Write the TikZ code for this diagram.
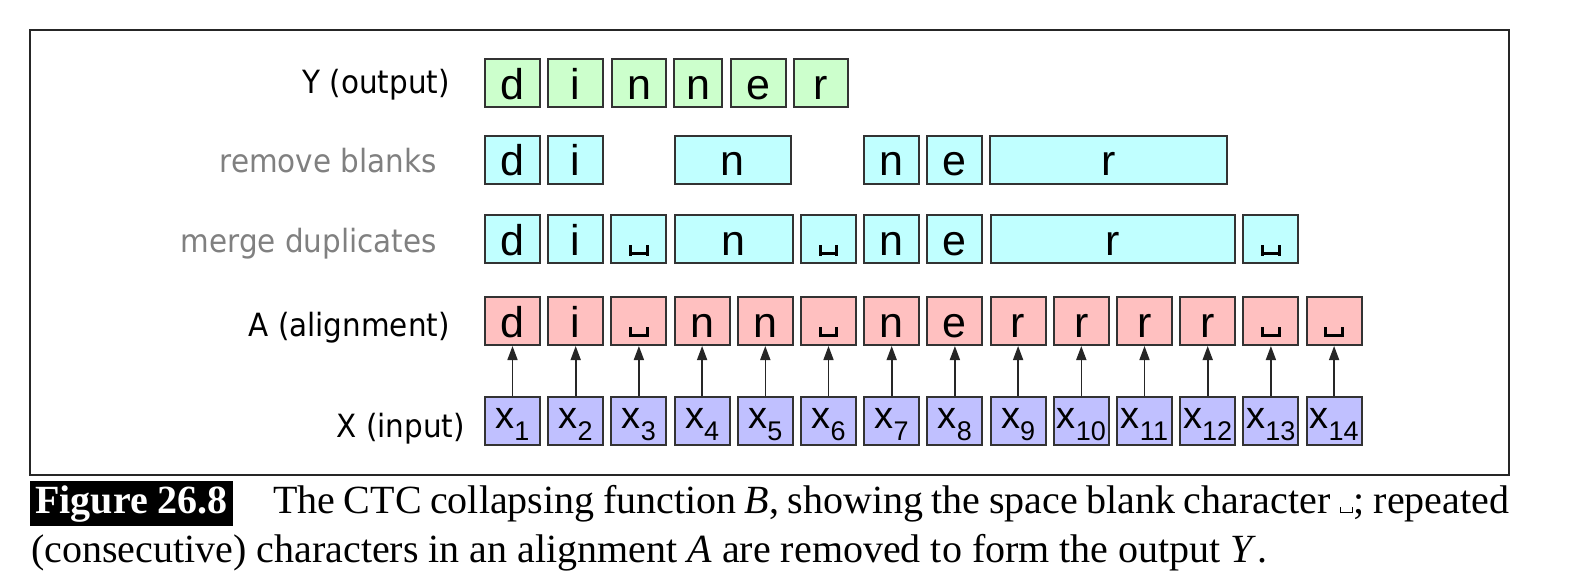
\documentclass[tikz,border=0pt]{standalone}
\usepackage{fontspec}
\setmainfont{Liberation Serif}
\newfontfamily\labelfont[FakeStretch=0.92]{DejaVu Sans}
\newfontfamily\cellfont{Liberation Sans}
\usetikzlibrary{arrows.meta}
\definecolor{ycol}{HTML}{CCFFCC}
\definecolor{mcol}{HTML}{C0FFFF}
\definecolor{acol}{HTML}{FFC0C0}
\definecolor{xcol}{HTML}{C0C0FF}
\definecolor{edgecol}{HTML}{333333}
\definecolor{labgray}{HTML}{808080}
\newcommand\blnk{\hbox{\kern0.05em\vrule width0.07em height0.24em depth0pt\vrule width0.31em height0.07em depth0pt\vrule width0.07em height0.24em depth0pt\kern0.05em}}
\newcommand\blnkc{\hbox{\kern0.03em\vrule width0.03em height0.14em depth0pt\vrule width0.26em height0.03em depth0pt\vrule width0.03em height0.14em depth0pt\kern0.02em}}
\newcommand\xsub[1]{x\raisebox{-12pt}{\fontsize{27pt}{27pt}\selectfont #1}}
\begin{document}
\begin{tikzpicture}[x=1pt,y=-1pt,
  cell/.style={draw=edgecol, line width=2pt, inner sep=0pt, minimum width=55pt, minimum height=48pt,
    font=\cellfont\fontsize{43pt}{46pt}\selectfont, text height=32pt, text depth=0pt},
  ycell/.style={cell, fill=ycol},
  mcell/.style={cell, fill=mcol},
  acell/.style={cell, fill=acol},
  xcell/.style={cell, fill=xcol, font=\cellfont\fontsize{38pt}{42pt}\selectfont, text height=24pt, text depth=9pt},
  rowlabel/.style={anchor=base east, inner sep=0pt, font=\labelfont\fontsize{32pt}{38pt}\selectfont},
  arr/.style={draw=black!85, line width=1.6pt, -{Triangle[width=10pt,length=14pt]}},
  capfont/.style={font=\fontsize{40pt}{48pt}\selectfont}
]
\useasboundingbox (0,0) rectangle (1580,588);
% frame
\draw[line width=2pt, draw=black!85] (30,30) rectangle (1509,475);

% row labels
\node[rowlabel] (lY) at (450,94) {Y (output)};
\node[rowlabel, text=labgray] (lR) at (437,173) {remove blanks};
\node[rowlabel, text=labgray] (lM) at (437,253) {merge duplicates};
\node[rowlabel] (lA) at (450,336) {A (alignment)};
\node[rowlabel] (lX) at (465,437) {X (input)};

% Y row
\node[ycell] (y1) at (512.5,83.5) {d};
\node[ycell] (y2) at (575.5,83.5) {i};
\node[ycell, minimum width=54pt] (y3) at (639,83.5) {n};
\node[ycell, minimum width=48pt] (y4) at (698,83.5) {n};
\node[ycell] (y5) at (758.5,83.5) {e};
\node[ycell, minimum width=54pt] (y6) at (821,83.5) {r};

% remove blanks row
\node[mcell] (r1) at (512.5,160) {d};
\node[mcell] (r2) at (575.7,160) {i};
\node[mcell, minimum width=116pt] (r3) at (732.5,160) {n};
\node[mcell] (r4) at (891.7,160) {n};
\node[mcell] (r5) at (954.9,160) {e};
\node[mcell, minimum width=237pt] (r6) at (1108.5,160) {r};

% merge duplicates row
\node[mcell] (m1) at (512.5,239.5) {d};
\node[mcell] (m2) at (575.7,239.5) {i};
\node[mcell] (m3) at (638.9,239.5) {\blnk};
\node[mcell, minimum width=118.2pt] (m4) at (733.7,239.5) {n};
\node[mcell] (m5) at (828.5,239.5) {\blnk};
\node[mcell] (m6) at (891.7,239.5) {n};
\node[mcell] (m7) at (954.9,239.5) {e};
\node[mcell, minimum width=244.6pt] (m8) at (1112.9,239.5) {r};
\node[mcell] (m9) at (1270.9,239.5) {\blnk};

% alignment row
\foreach \i/\c in {1/d,2/i,3/\blnk,4/n,5/n,6/\blnk,7/n,8/e,9/r,10/r,11/r,12/r,13/\blnk,14/\blnk}{
  \node[acell] (a\i) at ({512.5+63.2*(\i-1)},321) {\c};
}
% input row
\foreach \i in {1,...,14}{
  \node[xcell] (x\i) at ({512.5+63.2*(\i-1)},420.5) {\xsub{\i}};
}
% arrows
\foreach \i in {1,...,14}{
  \draw[arr] (x\i) -- (a\i);
}

% caption
\node[fill=black, text=white, anchor=base west, inner xsep=5pt, inner ysep=3pt,
  text height=29pt, text depth=10pt, font=\bfseries\fontsize{40pt}{48pt}\selectfont] (fig) at (30,513) {Figure 26.8};
\node[capfont, anchor=base west, inner sep=0pt] (cap1) at (273,513)
  {\makebox[1236pt][s]{The CTC collapsing function \textit{B}, showing the space blank character \blnkc; repeated}};
\node[capfont, anchor=base west, inner sep=0pt] (cap2) at (31,562)
  {(consecutive) characters in an alignment \textit{A} are removed to form the output \textit{Y}\kern1pt.};
\end{tikzpicture}
\end{document}
